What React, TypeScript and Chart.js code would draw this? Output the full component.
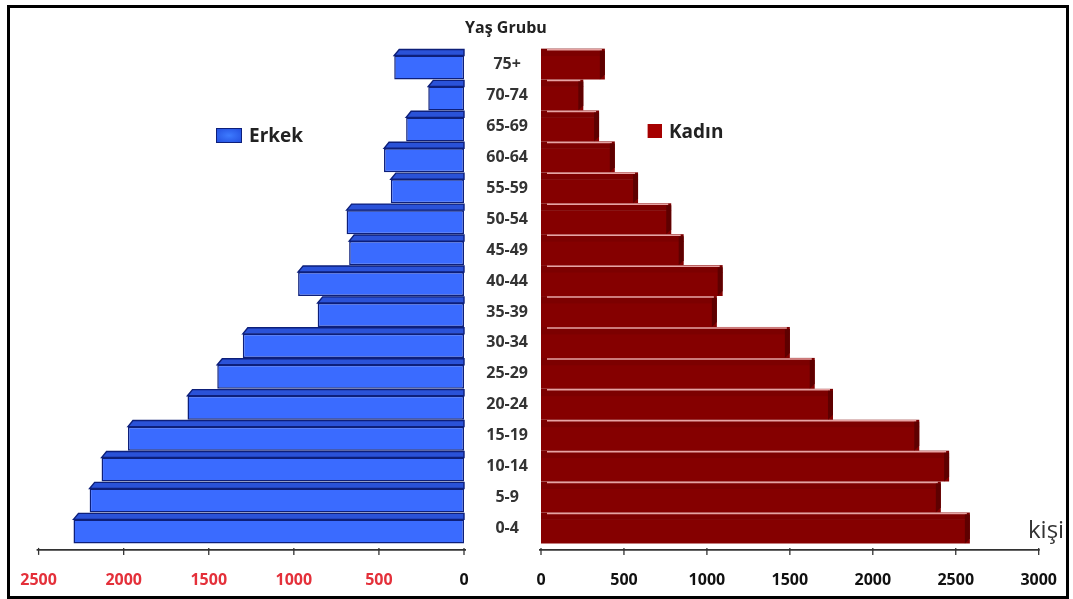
import React, { useEffect, useRef } from 'react';
import { Chart, registerables } from 'chart.js';

Chart.register(...registerables);

const categories = ['75+', '70-74', '65-69', '60-64', '55-59', '50-54', '45-49', '40-44', '35-39', '30-34', '25-29', '20-24', '15-19', '10-14', '5-9', '0-4'];
const erkek = [410, 210, 340, 470, 430, 690, 675, 975, 860, 1300, 1450, 1625, 1975, 2130, 2200, 2295];
const kadin = [385, 255, 350, 445, 585, 785, 860, 1095, 1060, 1500, 1650, 1760, 2280, 2460, 2410, 2585];
const erkekTicks = [0, 500, 1000, 1500, 2000, 2500];
const kadinTicks = [0, 500, 1000, 1500, 2000, 2500, 3000];

const FONT = "'Open Sans', 'DejaVu Sans', sans-serif";
const CANVAS_H = 599;
const AREA_TOP = 52.1;
const AREA_BOTTOM = 546.9;

function bandPlugin(kind: 'blue' | 'red') {
  return {
    id: 'band3d_' + kind,
    afterDatasetsDraw(chart: any) {
      const ctx = chart.ctx;
      const meta = chart.getDatasetMeta(0);
      const ys = chart.scales.y;
      const pitch = Math.abs(ys.getPixelForValue(1) - ys.getPixelForValue(0));
      ctx.save();
      meta.data.forEach((el: any) => {
        const { x, y, base, height } = el.getProps(['x', 'y', 'base', 'height'], true);
        const top = y - height / 2;
        const bottom = y + height / 2;
        const bandH = pitch - height;
        if (kind === 'blue') {
          ctx.beginPath();
          ctx.moveTo(x, top);
          ctx.lineTo(x + 5, top - bandH + 0.8);
          ctx.lineTo(base, top - bandH + 0.8);
          ctx.lineTo(base, top);
          ctx.closePath();
          ctx.fillStyle = '#2a52d8';
          ctx.fill();
          ctx.strokeStyle = '#0d1f7a';
          ctx.lineWidth = 1.4;
          ctx.stroke();
        } else {
          ctx.fillStyle = '#7c0000';
          ctx.fillRect(base, top - bandH, x - base, bandH + 0.5);
          ctx.strokeStyle = '#e7a3a3';
          ctx.lineWidth = 1.5;
          ctx.beginPath();
          ctx.moveTo(base + 6, top - bandH + 1);
          ctx.lineTo(x - 3, top - bandH + 1);
          ctx.stroke();
          ctx.beginPath();
          ctx.moveTo(x - 5, top - bandH + 2);
          ctx.lineTo(x, top - bandH + 2);
          ctx.lineTo(x, bottom - 5);
          ctx.lineTo(x - 5, bottom);
          ctx.closePath();
          ctx.fillStyle = '#5e0000';
          ctx.fill();
        }
      });
      ctx.restore();
    },
  };
}

function axisLinePlugin(kind: 'left' | 'right') {
  return {
    id: 'axisline_' + kind,
    afterDraw(chart: any) {
      const ctx = chart.ctx;
      const s = chart.scales.x;
      const y0 = chart.chartArea.bottom + 3;
      const values = kind === 'left' ? erkekTicks : kadinTicks;
      ctx.save();
      ctx.strokeStyle = '#333';
      ctx.lineWidth = 1.6;
      ctx.beginPath();
      if (kind === 'left') {
        ctx.moveTo(s.getPixelForValue(2500) - 2, y0);
        ctx.lineTo(s.getPixelForValue(0) + 2, y0);
      } else {
        ctx.moveTo(s.left - 2, y0);
        ctx.lineTo(s.right + 1, y0);
      }
      ctx.stroke();
      ctx.lineWidth = 1.3;
      values.forEach((v) => {
        const px = s.getPixelForValue(v);
        ctx.beginPath();
        ctx.moveTo(px, y0 - 2);
        ctx.lineTo(px, y0 + 5);
        ctx.stroke();
      });
      ctx.restore();
    },
  };
}

export default function App() {
  const leftRef = useRef<HTMLCanvasElement | null>(null);
  const rightRef = useRef<HTMLCanvasElement | null>(null);

  useEffect(() => {
    const left = new Chart(leftRef.current as HTMLCanvasElement, {
      type: 'bar',
      data: {
        labels: categories,
        datasets: [
          {
            label: 'Erkek',
            data: erkek,
            backgroundColor: '#3a6bff',
            borderColor: '#0d1f7a',
            borderWidth: 1.5,
            borderSkipped: false,
            barPercentage: 0.777,
            categoryPercentage: 1,
          },
        ],
      },
      options: {
        indexAxis: 'y',
        responsive: false,
        animation: false,
        layout: { padding: { left: 38.6, right: 16, top: AREA_TOP, bottom: 0 } },
        plugins: { legend: { display: false }, tooltip: { enabled: false } },
        scales: {
          y: { display: false },
          x: {
            min: 0,
            max: 2500,
            reverse: true,
            afterBuildTicks: (s: any) => {
              s.ticks = erkekTicks.map((v) => ({ value: v }));
            },
            afterFit: (s: any) => {
              s.height = CANVAS_H - AREA_BOTTOM;
            },
            grid: { display: false },
            border: { display: false },
            ticks: {
              maxRotation: 0,
              autoSkip: false,
              padding: 16,
              callback: (v: any) => String(v),
              font: { family: FONT, size: 16, weight: 'bold' },
              color: (c: any) => (c.tick && c.tick.value === 0 ? '#111' : '#e4303a'),
            },
          },
        },
      } as any,
      plugins: [bandPlugin('blue'), axisLinePlugin('left')],
    });

    const right = new Chart(rightRef.current as HTMLCanvasElement, {
      type: 'bar',
      data: {
        labels: categories,
        datasets: [
          {
            label: 'Kadın',
            data: kadin,
            backgroundColor: '#850000',
            borderWidth: 0,
            barPercentage: 0.777,
            categoryPercentage: 1,
          },
        ],
      },
      options: {
        indexAxis: 'y',
        responsive: false,
        animation: false,
        layout: { padding: { left: 0, right: 31, top: AREA_TOP, bottom: 0 } },
        plugins: { legend: { display: false }, tooltip: { enabled: false } },
        scales: {
          y: {
            afterFit: (s: any) => {
              s.width = 71;
            },
            grid: { display: false, drawTicks: false },
            border: { display: false },
            ticks: {
              crossAlign: 'center',
              padding: 13,
              labelOffset: -3,
              font: { family: FONT, size: 16, weight: 'bold' },
              color: '#333',
            },
          },
          x: {
            min: 0,
            max: 3000,
            afterBuildTicks: (s: any) => {
              s.ticks = kadinTicks.map((v) => ({ value: v }));
            },
            afterFit: (s: any) => {
              s.height = CANVAS_H - AREA_BOTTOM;
            },
            grid: { display: false },
            border: { display: false },
            ticks: {
              maxRotation: 0,
              autoSkip: false,
              padding: 16,
              callback: (v: any) => String(v),
              font: { family: FONT, size: 16, weight: 'bold' },
              color: '#111',
            },
          },
        },
      } as any,
      plugins: [bandPlugin('red'), axisLinePlugin('right')],
    });

    return () => {
      left.destroy();
      right.destroy();
    };
  }, []);

  const textBase: React.CSSProperties = {
    position: 'absolute',
    fontFamily: FONT,
    whiteSpace: 'nowrap',
    lineHeight: 'normal',
  };

  return (
    <div style={{ position: 'absolute', left: 0, top: 0, width: 1073, height: 599, background: '#fff', overflow: 'hidden' }}>
      <canvas ref={leftRef} width={480} height={CANVAS_H} style={{ position: 'absolute', left: 0, top: 0, width: 480, height: CANVAS_H }} />
      <canvas ref={rightRef} width={603} height={CANVAS_H} style={{ position: 'absolute', left: 470, top: 0, width: 603, height: CANVAS_H }} />
      <div style={{ ...textBase, left: 0, width: 1012, top: 16, textAlign: 'center', fontSize: 16, fontWeight: 700, color: '#222' }}>Yaş Grubu</div>
      <div style={{ position: 'absolute', left: 216, top: 128, width: 24, height: 13, border: '1px solid #0d1f7a', background: 'radial-gradient(ellipse at center, #3d7bff 0%, #2450e0 100%)' }} />
      <div style={{ ...textBase, left: 249, top: 121.5, fontSize: 19, fontWeight: 700, color: '#222' }}>Erkek</div>
      <div style={{ position: 'absolute', left: 647, top: 124, width: 14, height: 14, background: '#a50000', borderLeft: '1px solid #e09a9a' }} />
      <div style={{ ...textBase, left: 669, top: 117.5, fontSize: 19, fontWeight: 700, color: '#222' }}>Kadın</div>
      <div style={{ ...textBase, left: 1028, top: 512, fontSize: 24, fontWeight: 400, color: '#333' }}>kişi</div>
      <div style={{ position: 'absolute', left: 7, top: 5, width: 1062, height: 594, border: '3px solid #000', boxSizing: 'border-box', pointerEvents: 'none' }} />
    </div>
  );
}
